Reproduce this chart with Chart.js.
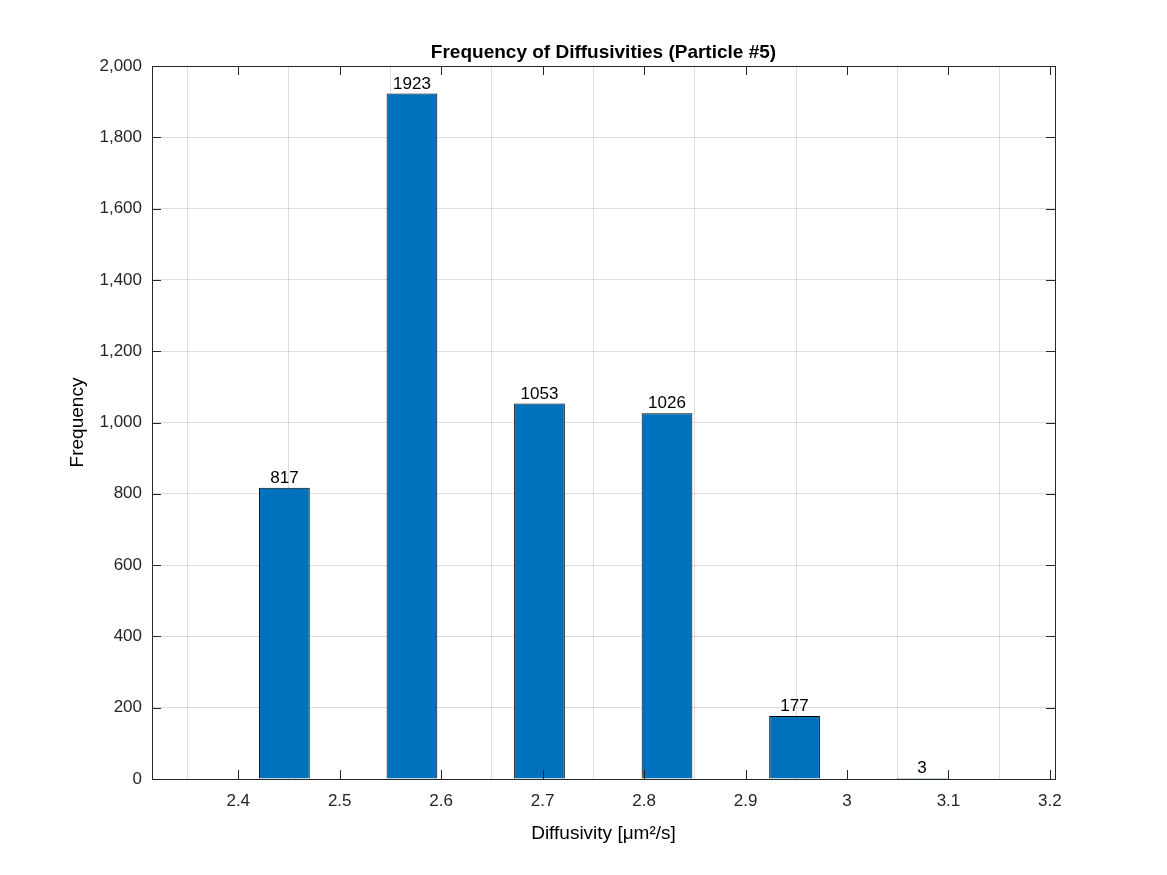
<!DOCTYPE html>
<html>
<head>
<meta charset="utf-8">
<script src="https://cdn.jsdelivr.net/npm/chart.js@4"></script>
<style>
  html, body { margin: 0; padding: 0; background: #fff; }
  #wrap { width: 1167px; height: 875px; }
</style>
</head>
<body>
<div id="wrap"><canvas id="c"></canvas></div>
<script>
const binCenters = [2.4455, 2.5712, 2.6969, 2.8226, 2.9483, 3.074]
const counts = [817, 1923, 1053, 1026, 177, 3]
const xTicks = [2.4, 2.5, 2.6, 2.7, 2.8, 2.9, 3.0, 3.1, 3.2]
const yTicks = [0, 200, 400, 600, 800, 1000, 1200, 1400, 1600, 1800, 2000]

const font = '"Liberation Sans", Arial, Helvetica, sans-serif'

const matlabBox = {
  id: 'matlabBox',
  afterDatasetsDraw(chart) {
    const { ctx, chartArea: a, scales } = chart
    ctx.save()
    // bar value labels
    ctx.fillStyle = '#000'
    ctx.font = '17px ' + font
    ctx.textAlign = 'center'
    ctx.textBaseline = 'bottom'
    const meta = chart.getDatasetMeta(0)
    meta.data.forEach((bar, i) => {
      ctx.fillText(String(counts[i]), bar.x, bar.y - 1)
    })
    // box and inward ticks
    ctx.strokeStyle = '#262626'
    ctx.lineWidth = 1
    ctx.strokeRect(a.left + 0.5, a.top + 0.5, a.right - a.left, a.bottom - a.top)
    ctx.beginPath()
    xTicks.forEach(v => {
      const x = Math.round(scales.x.getPixelForValue(v)) + 0.5
      ctx.moveTo(x, a.bottom); ctx.lineTo(x, a.bottom - 9)
      ctx.moveTo(x, a.top); ctx.lineTo(x, a.top + 9)
    })
    yTicks.forEach(v => {
      const y = Math.round(scales.y.getPixelForValue(v)) + 0.5
      ctx.moveTo(a.left, y); ctx.lineTo(a.left + 9, y)
      ctx.moveTo(a.right, y); ctx.lineTo(a.right - 9, y)
    })
    ctx.stroke()
    // title
    ctx.font = 'bold 19px ' + font
    ctx.textBaseline = 'bottom'
    ctx.fillText('Frequency of Diffusivities (Particle #5)', (a.left + a.right) / 2, a.top - 4)
    // x label
    ctx.font = '19px ' + font
    ctx.textBaseline = 'middle'
    ctx.fillText('Diffusivity [\u03BCm\u00B2/s]', (a.left + a.right) / 2, 834)
    // y label
    ctx.translate(78, (a.top + a.bottom) / 2)
    ctx.rotate(-Math.PI / 2)
    ctx.fillText('Frequency', 0, 0)
    ctx.restore()
  }
}

new Chart(document.getElementById('c'), {
  type: 'bar',
  data: {
    datasets: [{
      data: binCenters.map((x, i) => ({ x, y: counts[i] })),
      backgroundColor: '#0072BD',
      borderColor: '#000',
      borderWidth: 1,
      barPercentage: 0.5,
      categoryPercentage: 1.0
    }]
  },
  options: {
    responsive: true,
    maintainAspectRatio: false,
    animation: false,
    layout: { padding: { top: 66, right: 112, left: 0, bottom: 0 } },
    plugins: { legend: { display: false }, tooltip: { enabled: false } },
    scales: {
      x: {
        type: 'linear',
        min: 2.315,
        max: 3.205,
        offset: false,
        afterBuildTicks: s => { s.ticks = xTicks.map(v => ({ value: v })) },
        afterFit: s => { s.height = 96 },
        grid: { color: 'rgba(0,0,0,0.13)', drawTicks: false },
        border: { display: false },
        ticks: {
          color: '#262626', font: { family: font, size: 17 }, padding: 12,
          maxRotation: 0, autoSkip: false,
          callback: v => String(Math.round(v * 10) / 10)
        }
      },
      y: {
        min: 0,
        max: 2000,
        afterBuildTicks: s => { s.ticks = yTicks.map(v => ({ value: v })) },
        afterFit: s => { s.width = 152 },
        grid: { color: 'rgba(0,0,0,0.13)', drawTicks: false },
        border: { display: false },
        ticks: { color: '#262626', font: { family: font, size: 17 }, padding: 10 }
      }
    }
  },
  plugins: [matlabBox]
})
</script>
</body>
</html>
